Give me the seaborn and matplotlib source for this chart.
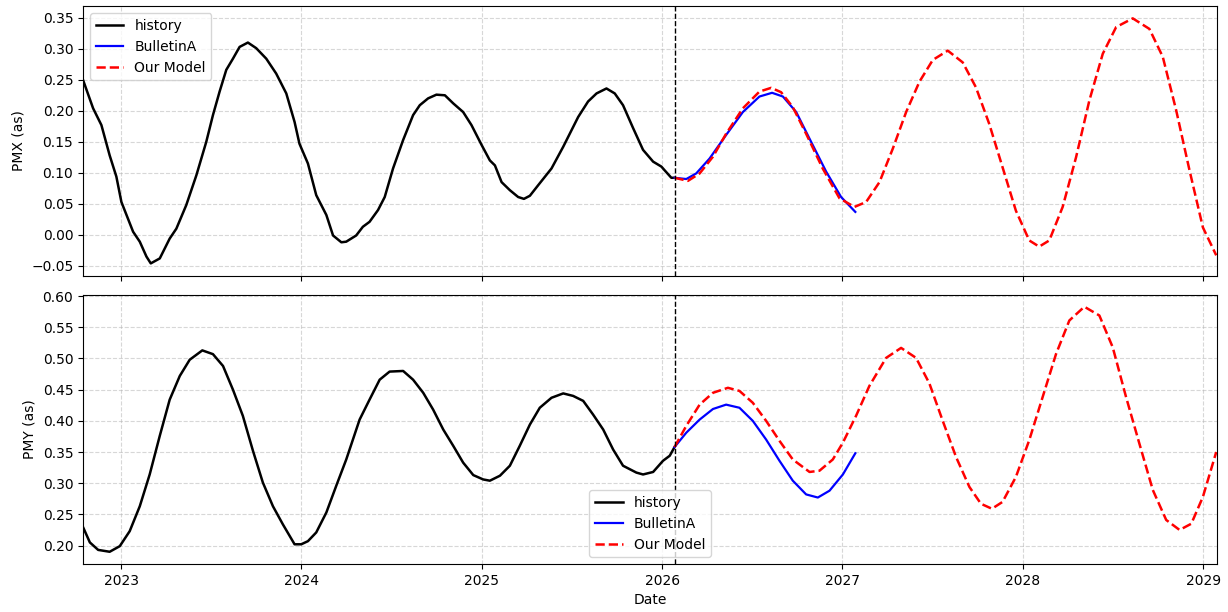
import numpy as np
import pandas as pd
import matplotlib
matplotlib.use("Agg")
import matplotlib.pyplot as plt
import seaborn as sns

# ---------------- data (fractional years, values in arcsec) ----------------
hist_x_t = [2022.790, 2022.845, 2022.891, 2022.937, 2022.974, 2023.002, 2023.067, 2023.104,
            2023.141, 2023.165, 2023.215, 2023.270, 2023.307, 2023.362, 2023.418, 2023.473,
            2023.510, 2023.547, 2023.584, 2023.621, 2023.658, 2023.704, 2023.750, 2023.806,
            2023.861, 2023.917, 2023.963, 2023.990, 2024.037, 2024.083, 2024.139, 2024.176,
            2024.222, 2024.249, 2024.304, 2024.341, 2024.378, 2024.425, 2024.462, 2024.508,
            2024.564, 2024.619, 2024.656, 2024.702, 2024.748, 2024.795, 2024.841, 2024.896,
            2024.942, 2024.998, 2025.044, 2025.072, 2025.109, 2025.155, 2025.201, 2025.233,
            2025.266, 2025.312, 2025.386, 2025.451, 2025.534, 2025.589, 2025.636, 2025.691,
            2025.737, 2025.783, 2025.839, 2025.894, 2025.950, 2025.996, 2026.014, 2026.051,
            2026.069]
hist_pmx = [0.249, 0.204, 0.177, 0.128, 0.094, 0.053, 0.005, -0.011,
            -0.035, -0.046, -0.038, -0.006, 0.010, 0.048, 0.096, 0.150,
            0.193, 0.231, 0.266, 0.284, 0.303, 0.310, 0.301, 0.284,
            0.260, 0.228, 0.182, 0.147, 0.115, 0.064, 0.032, -0.001,
            -0.012, -0.011, -0.001, 0.013, 0.021, 0.040, 0.061, 0.107,
            0.153, 0.193, 0.209, 0.220, 0.226, 0.225, 0.212, 0.198,
            0.177, 0.145, 0.120, 0.112, 0.085, 0.072, 0.061, 0.058,
            0.063, 0.080, 0.107, 0.142, 0.190, 0.215, 0.228, 0.236,
            0.228, 0.209, 0.172, 0.137, 0.118, 0.110, 0.104, 0.092,
            0.092]

hist_y_t = [2022.790, 2022.827, 2022.873, 2022.937, 2022.993, 2023.048, 2023.104, 2023.159,
            2023.215, 2023.270, 2023.326, 2023.381, 2023.451, 2023.510, 2023.566, 2023.621,
            2023.676, 2023.732, 2023.787, 2023.843, 2023.898, 2023.963, 2024.000, 2024.037,
            2024.083, 2024.139, 2024.194, 2024.249, 2024.323, 2024.378, 2024.434, 2024.489,
            2024.564, 2024.619, 2024.675, 2024.730, 2024.786, 2024.841, 2024.896, 2024.952,
            2025.007, 2025.044, 2025.100, 2025.155, 2025.210, 2025.266, 2025.321, 2025.386,
            2025.451, 2025.506, 2025.562, 2025.617, 2025.673, 2025.728, 2025.783, 2025.857,
            2025.894, 2025.950, 2026.005, 2026.042, 2026.069]
hist_pmy = [0.229, 0.205, 0.193, 0.190, 0.199, 0.223, 0.263, 0.314,
            0.376, 0.434, 0.472, 0.498, 0.513, 0.507, 0.488, 0.450,
            0.408, 0.352, 0.301, 0.263, 0.234, 0.202, 0.202, 0.207,
            0.221, 0.253, 0.296, 0.338, 0.402, 0.434, 0.466, 0.479,
            0.480, 0.466, 0.445, 0.418, 0.386, 0.360, 0.333, 0.313,
            0.306, 0.304, 0.312, 0.328, 0.360, 0.394, 0.421, 0.437,
            0.444, 0.440, 0.432, 0.410, 0.386, 0.354, 0.328, 0.317,
            0.314, 0.318, 0.336, 0.344, 0.358]

bull_x_t = [2026.069, 2026.134, 2026.189, 2026.263, 2026.355, 2026.448, 2026.540, 2026.610,
            2026.670, 2026.744, 2026.818, 2026.910, 2026.993, 2027.072]
bull_pmx = [0.092, 0.090, 0.099, 0.123, 0.161, 0.198, 0.223, 0.229,
            0.223, 0.198, 0.155, 0.102, 0.061, 0.037]

bull_y_t = [2026.069, 2026.134, 2026.208, 2026.282, 2026.355, 2026.429, 2026.503, 2026.577,
            2026.651, 2026.725, 2026.799, 2026.864, 2026.929, 2027.003, 2027.072]
bull_pmy = [0.358, 0.381, 0.402, 0.419, 0.426, 0.421, 0.400, 0.370,
            0.336, 0.304, 0.282, 0.277, 0.288, 0.314, 0.348]

model_x_t = [2026.069, 2026.143, 2026.208, 2026.282, 2026.355, 2026.448, 2026.540, 2026.605,
             2026.660, 2026.725, 2026.799, 2026.891, 2026.984, 2027.067, 2027.132, 2027.206,
             2027.280, 2027.354, 2027.428, 2027.502, 2027.585, 2027.668, 2027.741, 2027.815,
             2027.889, 2027.963, 2028.037, 2028.092, 2028.148, 2028.222, 2028.296, 2028.370,
             2028.444, 2028.518, 2028.610, 2028.702, 2028.776, 2028.850, 2028.924, 2028.998,
             2029.072]
model_pmx = [0.092, 0.087, 0.099, 0.126, 0.163, 0.204, 0.231, 0.237,
             0.230, 0.206, 0.163, 0.107, 0.059, 0.045, 0.053, 0.085,
             0.139, 0.198, 0.247, 0.282, 0.297, 0.278, 0.238, 0.179,
             0.109, 0.039, -0.009, -0.019, -0.009, 0.045, 0.125, 0.217,
             0.292, 0.335, 0.349, 0.332, 0.287, 0.201, 0.104, 0.012,
             -0.033]

model_y_t = [2026.069, 2026.134, 2026.208, 2026.282, 2026.365, 2026.429, 2026.503, 2026.577,
             2026.651, 2026.725, 2026.818, 2026.873, 2026.947, 2027.003, 2027.076, 2027.150,
             2027.243, 2027.326, 2027.409, 2027.483, 2027.557, 2027.631, 2027.705, 2027.769,
             2027.830, 2027.889, 2027.963, 2028.037, 2028.111, 2028.185, 2028.259, 2028.342,
             2028.425, 2028.499, 2028.573, 2028.647, 2028.721, 2028.795, 2028.869, 2028.934,
             2028.998, 2029.072]
model_pmy = [0.358, 0.392, 0.426, 0.445, 0.453, 0.448, 0.429, 0.400,
             0.368, 0.338, 0.318, 0.320, 0.338, 0.365, 0.408, 0.456,
             0.501, 0.517, 0.501, 0.460, 0.400, 0.342, 0.294, 0.267,
             0.259, 0.270, 0.310, 0.369, 0.438, 0.507, 0.561, 0.583,
             0.569, 0.518, 0.438, 0.363, 0.289, 0.241, 0.225, 0.235,
             0.278, 0.350]

forecast_start_t = 2026.069
xlim_t = (2022.789, 2029.076)


def to_date(fy):
    fy = np.atleast_1d(np.asarray(fy, dtype=float))
    out = []
    for v in fy:
        yr = int(np.floor(v))
        s = pd.Timestamp(yr, 1, 1)
        e = pd.Timestamp(yr + 1, 1, 1)
        out.append(s + (v - yr) * (e - s))
    return pd.DatetimeIndex(out)


fig, axes = plt.subplots(2, 1, figsize=(12.28, 6.12), dpi=100, sharex=True)
fig.subplots_adjust(left=0.0676, right=0.991, top=0.990, bottom=0.0784, hspace=0.07)

series = [
    (hist_x_t, hist_pmx, bull_x_t, bull_pmx, model_x_t, model_pmx, "PMX (as)"),
    (hist_y_t, hist_pmy, bull_y_t, bull_pmy, model_y_t, model_pmy, "PMY (as)"),
]

for i, (hx, hy, bx, by, mx, my, ylab) in enumerate(series):
    ax = axes[i]
    sns.lineplot(x=to_date(hx), y=hy, ax=ax, color="black", linewidth=1.8, label="history")
    sns.lineplot(x=to_date(bx), y=by, ax=ax, color="blue", linewidth=1.6, label="BulletinA")
    sns.lineplot(x=to_date(mx), y=my, ax=ax, color="red", linewidth=1.8,
                 linestyle="--", label="Our Model")
    ax.axvline(to_date(forecast_start_t)[0], color="black", linestyle="--", linewidth=1.0)
    ax.grid(True, linestyle="--", color="#b0b0b0", alpha=0.5, linewidth=0.8)
    ax.set_ylabel(ylab)
    ax.set_xlabel("")
    if i == 0:
        ax.legend(loc="upper left")
    else:
        ax.legend(loc="lower center")

axes[0].yaxis.set_major_locator(matplotlib.ticker.MultipleLocator(0.05))
axes[1].yaxis.set_major_locator(matplotlib.ticker.MultipleLocator(0.05))
axes[1].set_xlim(to_date(xlim_t[0])[0], to_date(xlim_t[1])[0])
axes[1].xaxis.set_major_locator(matplotlib.dates.YearLocator())
axes[1].xaxis.set_major_formatter(matplotlib.dates.DateFormatter("%Y"))
axes[1].set_xlabel("Date")

fig.savefig("out.png", dpi=100)
